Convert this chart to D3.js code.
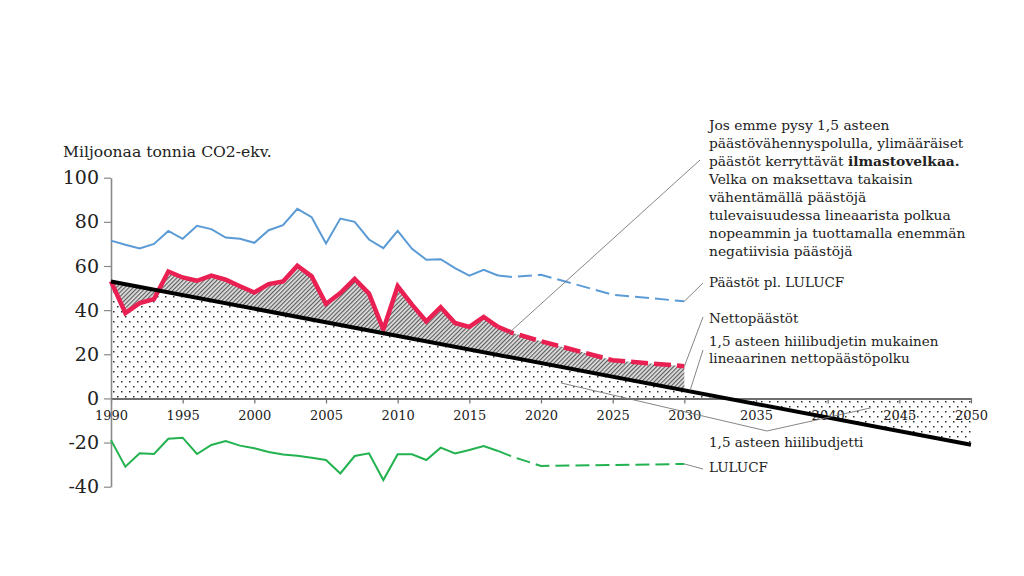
<!DOCTYPE html>
<html><head><meta charset="utf-8">
<script src="https://cdn.jsdelivr.net/npm/d3@7"></script>
<style>
html,body{margin:0;padding:0;background:#fff;}
svg{display:block;font-family:"DejaVu Serif",serif;}
</style></head>
<body><svg id="c" width="1024" height="576"></svg>
<script>
// ---- data ----
const histYears = [1990,1991,1992,1993,1994,1995,1996,1997,1998,1999,2000,2001,2002,2003,2004,2005,2006,2007,2008,2009,2010,2011,2012,2013,2014,2015,2016,2017];
const blueHist = [71.5,69.6,67.9,70.0,75.9,72.3,78.2,76.7,72.9,72.3,70.5,76.2,78.5,85.9,82.1,70.2,81.5,80.0,72.0,68.1,75.9,67.8,62.8,63.1,59.0,55.6,58.3,55.7];
const redHist = [53.0,38.7,43.2,45.0,57.5,54.8,53.3,55.6,53.8,50.8,48.0,51.8,53.0,60.1,55.3,42.8,47.7,54.1,47.5,31.2,50.8,42.5,34.9,41.3,34.2,32.4,36.9,32.4];
const greenHist = [-18.9,-30.9,-24.9,-25.2,-18.3,-17.8,-25.2,-21.1,-19.3,-21.4,-22.6,-24.3,-25.4,-26.0,-26.9,-27.9,-34.0,-26.1,-24.9,-37.0,-25.3,-25.3,-27.9,-22.3,-24.9,-23.4,-21.6,-23.8];
const projYears = [2017,2018,2020,2025,2030];
const blueProj = [55.7,55.0,56.0,47.0,44.0];
const redProj = [32.4,29.7,25.9,17.3,14.6];
const greenProj = [-23.8,-26.4,-30.6,-30.2,-29.7];
const pathYears = [1990,2050];
const pathValues = [53,-21];
const xTicks = [1990,1995,2000,2005,2010,2015,2020,2025,2030,2035,2040,2045,2050];
const yTicks = [-40,-20,0,20,40,60,80,100];

// ---- scales ----
const svg = d3.select("#c");
const x = d3.scaleLinear().domain([1990,2050]).range([111,971]);
const y = d3.scaleLinear().domain([-40,100]).range([486.7,177.7]);
const pathAt = d3.scaleLinear().domain(pathYears).range(pathValues);

const defs = svg.append("defs");
const dots = defs.append("pattern").attr("id","dots").attr("patternUnits","userSpaceOnUse")
  .attr("width",8).attr("height",10);
dots.append("rect").attr("x",1).attr("y",1).attr("width",1.5).attr("height",1.5).attr("fill","#2a2a2a");
dots.append("rect").attr("x",5).attr("y",6).attr("width",1.5).attr("height",1.5).attr("fill","#2a2a2a");
const hatch = defs.append("pattern").attr("id","hatch").attr("patternUnits","userSpaceOnUse")
  .attr("width",3).attr("height",3).attr("patternTransform","rotate(45)");
hatch.append("rect").attr("width",3).attr("height",3).attr("fill","#e0e0e0");
hatch.append("line").attr("x1",0.6).attr("y1",0).attr("x2",0.6).attr("y2",3).attr("stroke","#555").attr("stroke-width",1.1);

const pts = (ys, vs) => ys.map((d,i)=>[d, vs[i]]);
const line = d3.line().x(d=>x(d[0])).y(d=>y(d[1]));

// dotted budget area (between 0 and linear path)
const budget = pathYears.map(d=>[d, pathAt(d)]);
svg.append("path").datum(budget)
  .attr("d", d3.area().x(d=>x(d[0])).y0(y(0)).y1(d=>y(d[1])))
  .attr("fill","url(#dots)");

// hatched debt area (between net emissions and path)
const redAll = pts(histYears, redHist).concat(pts(projYears, redProj).slice(1));
svg.append("path").datum(redAll)
  .attr("d", d3.area().x(d=>x(d[0])).y0(d=>y(pathAt(d[0]))).y1(d=>y(d[1])))
  .attr("fill","url(#hatch)");

// axes
const xAxis = svg.append("g").attr("transform",`translate(0,${y(0)})`)
  .call(d3.axisBottom(x).tickValues(xTicks).tickFormat(d3.format("d")).tickSize(5).tickPadding(7).tickSizeOuter(0));
xAxis.select(".domain").attr("stroke","#6e6e6e").attr("stroke-width",2);
xAxis.selectAll(".tick line").attr("stroke","#6e6e6e").attr("stroke-width",1.2);
xAxis.selectAll("text").attr("font-family","DejaVu Serif").attr("font-size",13).attr("fill","#222");

const yAxis = svg.append("g").attr("transform",`translate(${x(1990)},0)`)
  .call(d3.axisLeft(y).tickValues(yTicks).tickFormat(d => String(d)).tickSize(7).tickPadding(5).tickSizeOuter(0));
yAxis.select(".domain").attr("stroke","#8a8a8a").attr("stroke-width",1.6);
yAxis.selectAll(".tick line").attr("stroke","#8a8a8a").attr("stroke-width",1.2);
yAxis.selectAll("text").attr("font-family","DejaVu Serif").attr("font-size",19).attr("fill","#222");

// series
function series(hy, hv, py, pv, color, w, dash){
  svg.append("path").datum(pts(hy,hv)).attr("d",line).attr("fill","none")
    .attr("stroke",color).attr("stroke-width",w).attr("stroke-linejoin","miter");
  svg.append("path").datum(pts(py,pv)).attr("d",line).attr("fill","none")
    .attr("stroke",color).attr("stroke-width",w).attr("stroke-dasharray",dash);
}
series(histYears, blueHist, projYears, blueProj, "#5b9bd5", 2, "14,6");
series(histYears, greenHist, projYears, greenProj, "#22b24f", 2, "14,6");
series(histYears, redHist, projYears, redProj, "#ea1f52", 4.5, "17,6");

svg.append("path").datum(budget).attr("d",line).attr("fill","none")
  .attr("stroke","#000").attr("stroke-width",4);

// leaders
const lead = (arr)=> svg.append("path").attr("d", d3.line()(arr)).attr("fill","none")
  .attr("stroke","#777").attr("stroke-width",0.9);
lead([[x(2017.6), y(28.7)],[700,160]]);
lead([[x(2030), y(44)],[703,283]]);
lead([[x(2030), y(14.5)],[703,317]]);
lead([[x(2030.4), y(3.6)],[703,350]]);
lead([[x(2021.4), y(7)],[767,431],[x(2043), y(-4.3)]]);
lead([[x(2030), y(-29.7)],[703,469]]);

// texts
const T = (tx, ty, s, size) => svg.append("text").attr("x",tx).attr("y",ty)
  .attr("dominant-baseline","middle").attr("font-size",size||13.5).attr("fill","#222").text(s);
T(63,153,"Miljoonaa tonnia CO2-ekv.",15.6);
T(709,283,"Päästöt pl. LULUCF");
T(709,319,"Nettopäästöt");
T(709,342,"1,5 asteen hiilibudjetin mukainen");
T(709,359,"lineaarinen nettopäästöpolku");
T(709,443,"1,5 asteen hiilibudjetti");
T(709,468,"LULUCF");

const note = [
  ["Jos emme pysy 1,5 asteen"],
  ["päästövähennyspolulla, ylimääräiset"],
  ["päästöt kerryttävät ", "ilmastovelkaa."],
  ["Velka on maksettava takaisin"],
  ["vähentämällä päästöjä"],
  ["tulevaisuudessa lineaarista polkua"],
  ["nopeammin ja tuottamalla enemmän"],
  ["negatiivisia päästöjä"]
];
note.forEach((parts,i)=>{
  const t = svg.append("text").attr("x",709).attr("y",126+i*18)
    .attr("dominant-baseline","middle").attr("font-size",13.8).attr("fill","#222");
  parts.forEach((p,j)=> t.append("tspan").attr("font-weight", j===1?"bold":"normal").text(p));
});
</script></body></html>
